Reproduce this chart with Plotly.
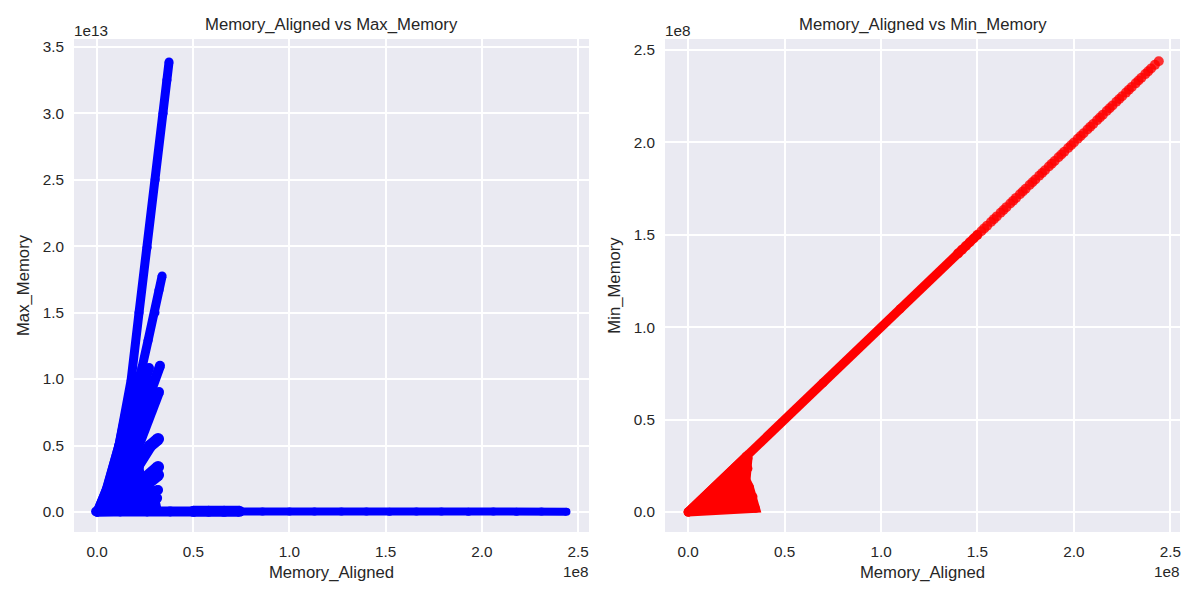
import plotly.graph_objects as go

BLUE = "#0000FF"
RED = "#FF0000"
INK = "#262626"

# Values are in axis units: Memory_Aligned / 1e8, Max_Memory / 1e13, Min_Memory / 1e8
main_x = [0.0, 0.047, 0.114, 0.177, 0.218, 0.26, 0.302, 0.343, 0.363, 0.374]
main_y = [0.0, 0.166, 0.504, 0.993, 1.50, 1.99, 2.50, 3.00, 3.25, 3.386]
second_x = [0.068, 0.146, 0.234, 0.265, 0.301, 0.322, 0.338]
second_y = [0.24, 0.617, 1.09, 1.29, 1.50, 1.67, 1.776]
narrow_rays = {
    "ray_a": ([0.198, 0.27], [0.767, 1.083]),
    "ray_b": ([0.225, 0.255, 0.327], [0.65, 0.813, 1.10]),
    "ray_c": ([0.205, 0.234, 0.322], [0.46, 0.579, 0.903]),
    "ray_g": ([0.249, 0.317], [0.143, 0.166]),
    "ray_h": ([0.223, 0.312], [0.09, 0.105]),
}
wide_rays = {
    "ray_d": ([0.213, 0.275, 0.317], [0.354, 0.497, 0.549]),
    "ray_e": ([0.239, 0.317], [0.241, 0.339]),
    "ray_f": ([0.239, 0.317], [0.188, 0.278]),
}
fan_body_x = [0.0, 0.052, 0.114, 0.145, 0.215, 0.187, 0.218, 0.234, 0.301, 0.312, 0.0]
fan_body_y = [0.0, 0.181, 0.504, 0.72, 0.72, 0.444, 0.331, 0.188, 0.09, 0.015, 0.0]
band_near_x = [-0.005, 0.12, 0.26, 0.38, 0.50]
band_near_y = [0.004, 0.005, 0.004, 0.005, 0.004]
band_far_x = [0.50, 0.58, 0.66, 0.74]
band_far_y = [0.006, 0.007, 0.006, 0.006]
tail_x = [0.74, 0.86, 1.0, 1.13, 1.27, 1.40, 1.52, 1.66, 1.79, 1.93, 2.06, 2.18, 2.31, 2.44]
tail_y = [0.005, 0.004, 0.004, 0.005, 0.004, 0.004, 0.003, 0.004, 0.004, 0.003, 0.004, 0.003, 0.004, 0.003]

diag_solid = [0.0, 0.30, 0.70, 1.10, 1.40, 1.50]
diag_beads = [
    1.40, 1.42, 1.44, 1.46, 1.48, 1.50, 1.52, 1.535, 1.55, 1.57, 1.585, 1.60, 1.62, 1.635, 1.65,
    1.67, 1.685, 1.70, 1.72, 1.735, 1.75, 1.77, 1.785, 1.80, 1.82, 1.835, 1.85, 1.87, 1.885, 1.90,
    1.92, 1.935, 1.95, 1.97, 1.985, 2.00, 2.02, 2.035, 2.05, 2.07, 2.085, 2.10, 2.12, 2.135, 2.15,
    2.17, 2.185, 2.20, 2.22, 2.235, 2.25, 2.27, 2.285, 2.30, 2.32, 2.335, 2.35, 2.37, 2.385, 2.40,
    2.42, 2.44,
]
wedge_x = [0.0, 0.30, 0.31, 0.31, 0.30, 0.317, 0.336, 0.349, 0.0]
wedge_y = [0.0, 0.30, 0.29, 0.236, 0.173, 0.136, 0.083, 0.02, 0.0]

x_ticks = [0.0, 0.5, 1.0, 1.5, 2.0, 2.5]
left_y_ticks = [0.0, 0.5, 1.0, 1.5, 2.0, 2.5, 3.0, 3.5]
right_y_ticks = [0.0, 0.5, 1.0, 1.5, 2.0, 2.5]

fig = go.Figure()


def path(x, y, color, axis, size=9, name=""):
    fig.add_trace(go.Scatter(
        x=x, y=y, mode="lines+markers", name=name, showlegend=False,
        line=dict(color=color, width=size),
        marker=dict(color=color, size=size),
        xaxis="x" + axis, yaxis="y" + axis,
    ))


def body(x, y, color, axis, name=""):
    fig.add_trace(go.Scatter(
        x=x, y=y, mode="lines+markers", fill="toself", fillcolor=color, name=name, showlegend=False,
        line=dict(color=color, width=9),
        marker=dict(color=color, size=9),
        xaxis="x" + axis, yaxis="y" + axis,
    ))


body(fan_body_x, fan_body_y, BLUE, "", "fan")
path(main_x, main_y, BLUE, "", name="main")
path(second_x, second_y, BLUE, "", name="second")
for ray_name, (rx, ry) in narrow_rays.items():
    path(rx, ry, BLUE, "", size=10, name=ray_name)
for ray_name, (rx, ry) in wide_rays.items():
    path(rx, ry, BLUE, "", size=12, name=ray_name)
path(band_near_x, band_near_y, BLUE, "", size=10, name="band near")
path(band_far_x, band_far_y, BLUE, "", size=11, name="band far")
path(tail_x, tail_y, BLUE, "", size=8, name="tail")

body(wedge_x, wedge_y, RED, "2", "wedge")
path(diag_solid, diag_solid, RED, "2", size=9, name="diagonal")
fig.add_trace(go.Scatter(
    x=diag_beads, y=diag_beads, mode="markers", name="diagonal points", showlegend=False,
    marker=dict(color=RED, size=10, opacity=0.8, line=dict(width=0)),
    xaxis="x2", yaxis="y2",
))

font_tick = dict(family="Liberation Sans, Arial, sans-serif", size=15.3, color=INK)
font_label = dict(family="Liberation Sans, Arial, sans-serif", size=16.7, color=INK)


def xax(domain, rng, anchor):
    return dict(
        domain=domain, range=rng, anchor=anchor, tickvals=x_ticks, tickformat=".1f",
        showgrid=True, gridcolor="white", gridwidth=1.7, zeroline=False, showline=False,
        ticks="outside", ticklen=6, tickcolor="rgba(0,0,0,0)", tickfont=font_tick,
        title=dict(text="Memory_Aligned", font=font_label, standoff=6),
    )


def yax(domain, rng, anchor, vals, label):
    return dict(
        domain=domain, range=rng, anchor=anchor, tickvals=vals, tickformat=".1f",
        showgrid=True, gridcolor="white", gridwidth=1.7, zeroline=False, showline=False,
        ticks="outside", ticklen=6, tickcolor="rgba(0,0,0,0)", tickfont=font_tick,
        title=dict(text=label, font=font_label, standoff=8),
    )


y_domain = [68 / 600, 561 / 600]
fig.update_layout(
    width=1200, height=600, margin=dict(l=0, r=0, t=0, b=0),
    paper_bgcolor="white", plot_bgcolor="#EAEAF2", showlegend=False,
    xaxis=xax([74 / 1200, 589 / 1200], [-0.12, 2.557], "y"),
    yaxis=yax(y_domain, [-0.15, 3.559], "x", left_y_ticks, "Max_Memory"),
    xaxis2=xax([665 / 1200, 1180 / 1200], [-0.12, 2.55], "y2"),
    yaxis2=yax(y_domain, [-0.108, 2.56], "x2", right_y_ticks, "Min_Memory"),
    annotations=[
        dict(text="Memory_Aligned vs Max_Memory", x=331.5 / 1200, y=1 - 25 / 600, xref="paper", yref="paper",
             showarrow=False, font=font_label, xanchor="center", yanchor="middle"),
        dict(text="Memory_Aligned vs Min_Memory", x=922.5 / 1200, y=1 - 25 / 600, xref="paper", yref="paper",
             showarrow=False, font=font_label, xanchor="center", yanchor="middle"),
        dict(text="1e13", x=72 / 1200, y=1 - 30 / 600, xref="paper", yref="paper", showarrow=False,
             font=font_tick, xanchor="left", yanchor="middle"),
        dict(text="1e8", x=591 / 1200, y=1 - 571 / 600, xref="paper", yref="paper", showarrow=False,
             font=font_tick, xanchor="right", yanchor="middle"),
        dict(text="1e8", x=1182 / 1200, y=1 - 571 / 600, xref="paper", yref="paper", showarrow=False,
             font=font_tick, xanchor="right", yanchor="middle"),
        dict(text="1e8", x=663 / 1200, y=1 - 30 / 600, xref="paper", yref="paper", showarrow=False,
             font=font_tick, xanchor="left", yanchor="middle"),
    ],
)

fig.write_html("out.html", config={"displayModeBar": False}, post_script="document.body.style.margin='0';")
